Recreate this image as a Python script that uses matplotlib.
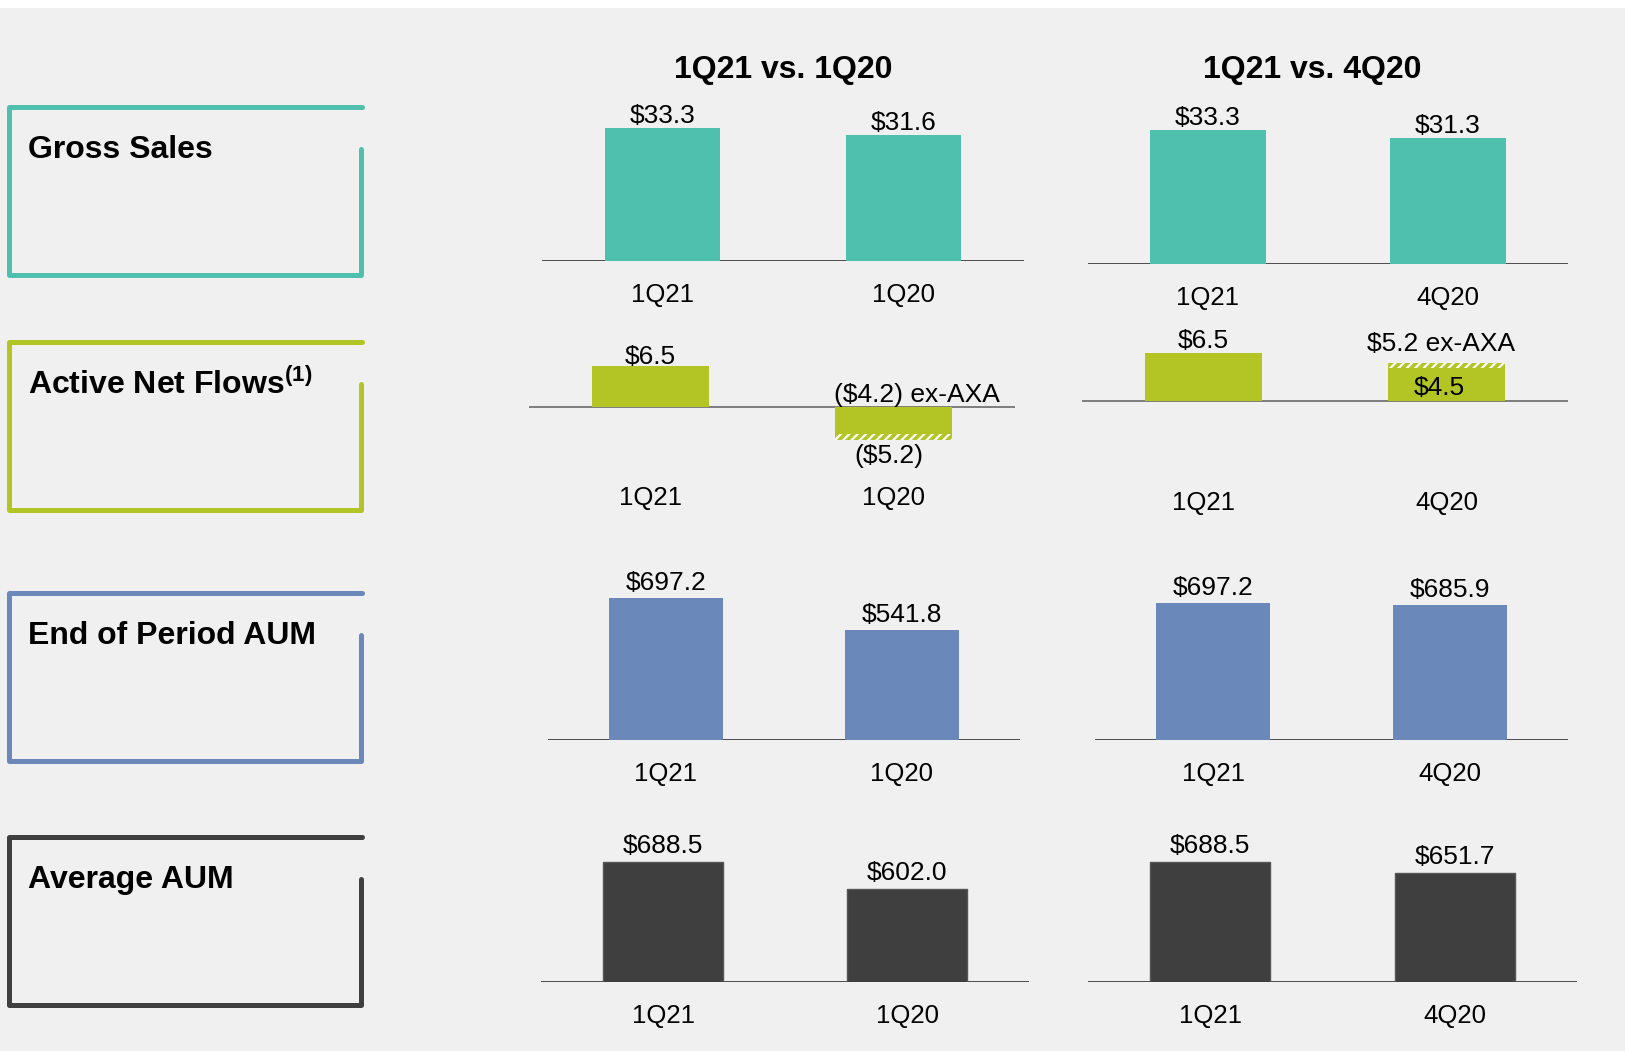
import matplotlib
matplotlib.use("Agg")
import matplotlib.pyplot as plt
from matplotlib.patches import Rectangle

plt.rcParams["font.family"] = ["Liberation Sans", "DejaVu Sans"]
plt.rcParams["mathtext.fontset"] = "custom"
plt.rcParams["mathtext.bf"] = "Liberation Sans:bold"
plt.rcParams["hatch.linewidth"] = 1.6

W, H = 1625, 1051

# данные
metrics = ["Gross Sales", r"Active Net Flows$^{\mathbf{(1)}}$", "End of Period AUM", "Average AUM"]
comparisons = ["1Q21 vs. 1Q20", "1Q21 vs. 4Q20"]
periods = [["1Q21", "1Q20"], ["1Q21", "4Q20"]]

gross_sales = [[33.3, 31.6], [33.3, 31.3]]
active_flows = [[6.5, -5.2], [6.5, 4.5]]
active_flows_ex_axa = [[None, -4.2], [None, 5.2]]
eop_aum = [[697.2, 541.8], [697.2, 685.9]]
avg_aum = [[688.5, 602.0], [688.5, 651.7]]

colors = ["#4fbfae", "#b3c525", "#6a89ba", "#3f3f3f"]

# раскладка панелей в пикселях: x0, x1, базовая линия, px на единицу, опорное значение, ylim
layout = [
    [(542, 1024, 261, 3.98, 0, 0, 40), (1088, 1568, 264, 4.01, 0, 0, 40)],
    [(529, 1015, 407, 6.35, 0, -8, 9), (1082, 1568, 401, 7.33, 0, -8, 9)],
    [(548, 1020, 740, 0.2036, 0, 0, 800), (1095, 1568, 740, 0.1961, 0, 0, 800)],
    [(541, 1029, 982, 0.309, 300, 300, 800), (1088, 1577, 982, 0.3096, 300, 300, 800)],
]
tick_offsets = [[31, 31], [88, 99], [31, 31], [31, 31]]
label_offsets = [15, 12, 18, 19]
box_tops = [107, 342, 593, 837]

PT = 0.72  # пиксели -> пункты
DY = 3     # поправка: va="center" учитывает нижний вынос шрифта


def money(v):
    if v < 0:
        return f"(\\${-v:.1f})"
    return f"\\${v:.1f}"


def note(ax, s, xy, dx, dy):
    # dx, dy в пикселях, dy вверх
    ax.annotate(s, xy, xytext=(dx * PT, (dy - DY) * PT), textcoords="offset points",
                ha="center", va="center", fontsize=19)


fig = plt.figure(figsize=(W / 100, H / 100), dpi=100)
fig.patch.set_facecolor("#f0f0f0")

over = fig.add_axes([0, 0, 1, 1])
over.set_xlim(0, W)
over.set_ylim(H, 0)
over.axis("off")
over.add_patch(Rectangle((0, 0), W, 8, facecolor="white", edgecolor="none"))

# рамки слева
for i, name in enumerate(metrics):
    t = box_tops[i]
    xs = [361, 361, 8.7, 8.7, 362]
    ys = [t + 42, t + 168, t + 168, t, t]
    over.plot(xs, ys, color=colors[i], lw=3.6, solid_capstyle="round", solid_joinstyle="round")
    over.text(28, t + 40 + DY, name, fontsize=23, fontweight="bold", va="center", ha="left")

over.text(783, 67 + DY, comparisons[0], fontsize=23, fontweight="bold", ha="center", va="center")
over.text(1312, 67 + DY, comparisons[1], fontsize=23, fontweight="bold", ha="center", va="center")


def add_panel(x0, x1, base, scale, ref, lo, hi):
    top = base - (hi - ref) * scale
    bot = base + (ref - lo) * scale
    ax = fig.add_axes([x0 / W, 1 - bot / H, (x1 - x0) / W, (bot - top) / H])
    ax.set_xlim(-0.5, 1.5)
    ax.set_ylim(lo, hi)
    ax.axis("off")
    ax.patch.set_alpha(0)
    return ax


rows = [gross_sales, active_flows, eop_aum, avg_aum]
for r, data in enumerate(rows):
    for c in range(2):
        x0, x1, base, scale, ref, lo, hi = layout[r][c]
        ax = add_panel(x0, x1, base, scale, ref, lo, hi)
        vals = data[c]
        width = 0.49 if r == 3 else 0.48
        ax.axhline(ref, color="#6a6a6a" if r == 1 else "#303030", lw=1.2, zorder=1)

        for k, v in enumerate(vals):
            ax.annotate(periods[c][k], (k, ref), xytext=(0, -(tick_offsets[r][c] + DY) * PT),
                        textcoords="offset points", ha="center", va="center", fontsize=18.5)

        if r == 1:
            for k, v in enumerate(vals):
                ex = active_flows_ex_axa[c][k]
                if ex is None:
                    ax.bar(k, v, width, color=colors[r], zorder=2)
                    note(ax, money(v), (k, v), 0, label_offsets[r] + (3 if c else 0))
                    continue
                solid = v if abs(v) < abs(ex) else ex
                full = ex if abs(v) < abs(ex) else v
                ax.bar(k, solid, width, color=colors[r], zorder=2)
                ax.bar(k, full - solid, width, bottom=solid, color=colors[r],
                       hatch="////", edgecolor="white", lw=0, zorder=2)
                if v < 0:
                    note(ax, money(ex) + " ex-AXA", (k, 0), 23, 15)
                    note(ax, money(v), (k, full), -5, -13)
                else:
                    note(ax, money(ex) + " ex-AXA", (k, full), -5, 22)
                    note(ax, money(v), (k, 0), -7, 16)
        else:
            if r == 3:
                ax.bar([0, 1], vals, width, color=colors[r], edgecolor="#555555", lw=1,
                       joinstyle="round", zorder=2)
            else:
                ax.bar([0, 1], vals, width, color=colors[r], zorder=2)
            for k, v in enumerate(vals):
                note(ax, money(v), (k, v), 0, label_offsets[r])

fig.savefig("out.png", dpi=100, facecolor=fig.get_facecolor())
